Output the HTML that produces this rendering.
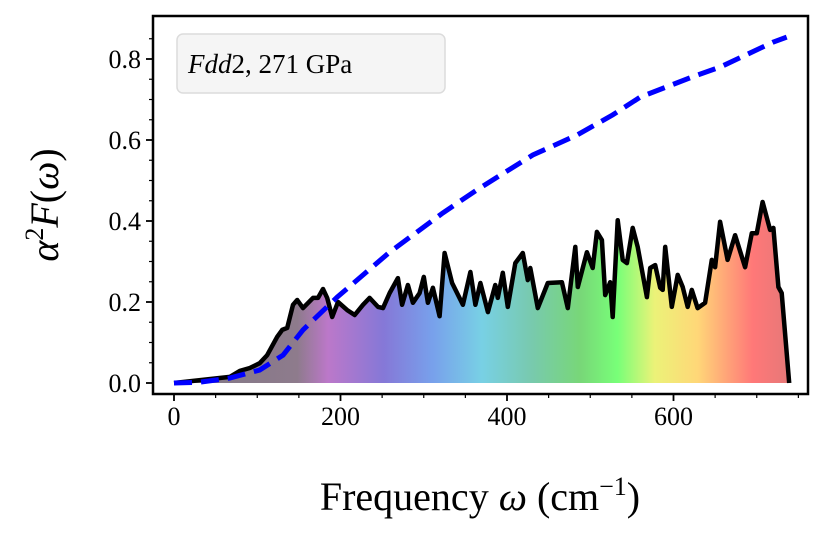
<!DOCTYPE html>
<html><head><meta charset="utf-8"><style>
html,body{margin:0;padding:0;background:#fff;}
svg{display:block;font-family:"Liberation Serif","DejaVu Serif",serif;}
</style></head><body>
<svg id="chart" width="829" height="534" viewBox="0 0 829 534" xmlns="http://www.w3.org/2000/svg">
<defs>
<linearGradient id="rainbow" gradientUnits="userSpaceOnUse" x1="174" y1="0" x2="790" y2="0">
<stop offset="0" stop-color="#6a6070"/>
<stop offset="0.2" stop-color="#7a6478"/>
<stop offset="0.25" stop-color="#b060c0"/>
<stop offset="0.34" stop-color="#7060d0"/>
<stop offset="0.42" stop-color="#6090e8"/>
<stop offset="0.5" stop-color="#60c8e0"/>
<stop offset="0.58" stop-color="#60c0a0"/>
<stop offset="0.66" stop-color="#60d060"/>
<stop offset="0.72" stop-color="#60ff60"/>
<stop offset="0.78" stop-color="#e8f060"/>
<stop offset="0.85" stop-color="#ffd060"/>
<stop offset="0.9" stop-color="#ff9060"/>
<stop offset="0.94" stop-color="#ff6060"/>
<stop offset="1" stop-color="#e06060"/>
</linearGradient>
</defs>
</svg>
<script>
const freqs = [0,67,79,91,103,112,124,130,136,143,148,155,167,173,179,184,190,197,208,217,227,235,245,251,259,269,274,281,287,295,300,305,311,319,325,334,347,356,362,368,377,386,389,395,401,410,419,425,428,437,449,466,473,482,485,496,503,508,514,518,524,527,533,539,544,551,557,568,572,578,584,587,590,598,605,611,617,622,629,638,646,650,656,665,674,686,694,700,707,716,720,726,730,739];
const a2f = [0,.015,.03,.037,.049,.069,.114,.131,.136,.193,.205,.185,.21,.21,.232,.21,.163,.2,.18,.168,.193,.21,.188,.185,.222,.259,.193,.242,.198,.222,.262,.198,.235,.165,.321,.247,.193,.274,.193,.247,.175,.242,.21,.272,.188,.296,.321,.254,.284,.185,.247,.249,.185,.336,.237,.323,.284,.373,.353,.217,.249,.163,.402,.304,.296,.383,.336,.212,.284,.291,.235,.23,.336,.188,.267,.237,.188,.23,.185,.198,.304,.286,.398,.304,.365,.286,.37,.37,.447,.378,.383,.237,.222,0];
const lamFreqs = [0,31,67,103,131,155,196,259,323,364,431,484,527,560,623,656,720,736];
const lamVals = [0,.002,.012,.032,.069,.131,.212,.323,.42,.477,.563,.612,.662,.706,.756,.78,.842,.854];
const xTicks = [0,200,400,600];
const yTicks = [0.0,0.2,0.4,0.6,0.8];
const yTickLabels = ["0.0","0.2","0.4","0.6","0.8"];

const NS="http://www.w3.org/2000/svg";
const svg=document.getElementById('chart');
const L=153,T=16,R=808,B=394;
const xs=v=>174+v*0.8325;
const ys=v=>383-v*405;
function mk(tag,attrs,parent){const e=document.createElementNS(NS,tag);for(const k in attrs)e.setAttribute(k,attrs[k]);(parent||svg).appendChild(e);return e;}

let d='M'+xs(freqs[0])+','+ys(0);
freqs.forEach((f,i)=>{d+=' L'+xs(f).toFixed(1)+','+ys(a2f[i]).toFixed(1);});
d+=' L'+xs(freqs[freqs.length-1])+','+ys(0)+' Z';
const area=mk('path',{d:d,fill:'url(#rainbow)','fill-opacity':'0.85'});



const pts=freqs.map((f,i)=>xs(f).toFixed(1)+','+ys(a2f[i]).toFixed(1)).join(' ');
const line=mk('polyline',{points:pts,fill:'none',stroke:'#000','stroke-width':4.5,'stroke-linejoin':'round'});



const lpts=lamFreqs.map((f,i)=>xs(f).toFixed(1)+','+ys(lamVals[i]).toFixed(1)).join(' ');
const lam=mk('polyline',{points:lpts,fill:'none',stroke:'#0000ff','stroke-width':5,'stroke-dasharray':'18,9'});



const frame=mk('rect',{x:L,y:T,width:R-L,height:B-T,fill:'none',stroke:'#000','stroke-width':2.5});



for(let v=0;v<=750;v+=50){
  const major=v%200===0;
  const t=mk('line',{x1:xs(v),x2:xs(v),y1:B,y2:B+(major?7:4),stroke:'#000','stroke-width':major?1.8:1.2});
  
  
}
xTicks.forEach(v=>{
  const t=mk('text',{x:xs(v),y:B+31,'text-anchor':'middle','font-size':26});
  t.textContent=v;
  
  
});
for(let i=0;i<=17;i++){
  const v=i*0.05;const major=i%4===0;
  const t=mk('line',{x1:L,x2:L-(major?7:4),y1:ys(v),y2:ys(v),stroke:'#000','stroke-width':major?1.8:1.2});
  
  
}
yTicks.forEach((v,i)=>{
  const t=mk('text',{x:L-12,y:ys(v)+9,'text-anchor':'end','font-size':26});
  t.textContent=yTickLabels[i];
  
  
});

const lg=mk('rect',{x:177,y:34,width:268,height:59,rx:6,fill:'#f5f5f5',stroke:'#dcdcdc','stroke-width':1.5});


const lt=mk('text',{x:188,y:73,'font-size':27});
lt.innerHTML='<tspan font-style="italic">Fdd</tspan>2, 271 GPa';



const xt=mk('text',{x:480,y:510,'text-anchor':'middle','font-size':40});
xt.innerHTML='Frequency <tspan font-style="italic">ω</tspan> (cm<tspan dy="-15" font-size="26">−1</tspan><tspan dy="15">)</tspan>';


const yt=mk('text',{x:0,y:0,'text-anchor':'middle','font-size':40,transform:'translate(58,205) rotate(-90)'});
yt.innerHTML='<tspan font-style="italic">α</tspan><tspan dy="-15" font-size="26">2</tspan><tspan dy="15" font-style="italic">F</tspan>(<tspan font-style="italic">ω</tspan>)';


</script>
</body></html>
